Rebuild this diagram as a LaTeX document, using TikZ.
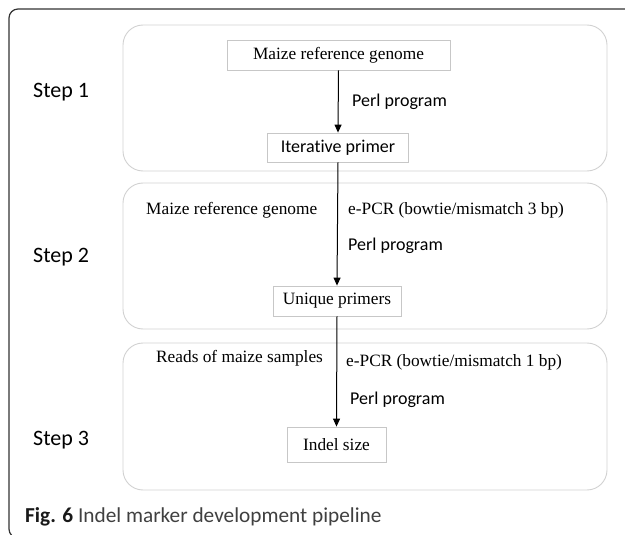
\documentclass[tikz,border=0pt]{standalone}
\usepackage{fontspec}
\setmainfont{Liberation Serif}
\newfontfamily\carl[Ligatures=NoCommon]{Carlito}
\usetikzlibrary{arrows.meta}
\begin{document}
\begin{tikzpicture}[x=1pt,y=-1pt,
  stepframe/.style={draw=black!18, line width=0.9pt, rounded corners=20pt, inner sep=0pt},
  entity/.style={draw=black!22, line width=0.8pt, inner sep=0pt},
  serif/.style={font=\fontsize{17.3}{19}\selectfont, inner sep=0pt},
  sans/.style={font=\carl\fontsize{18}{20}\selectfont, inner sep=0pt},
  steplbl/.style={font=\carl\fontsize{22}{24}\selectfont, inner sep=0pt, anchor=west},
  arr/.style={-{Triangle[length=8pt,width=7pt]}, line width=1pt}]
\useasboundingbox (0,0) rectangle (625,535);
% outer frame
\draw[line width=1.2pt, black!80, rounded corners=9pt] (640,9) -- (9,9) -- (9,538) -- (40,538);
% step frames
\node[stepframe, minimum width=484pt, minimum height=146pt] (s1) at (365,98) {};
\node[stepframe, minimum width=484pt, minimum height=146pt] (s2) at (365,256) {};
\node[stepframe, minimum width=484pt, minimum height=147pt] (s3) at (365,416.5) {};
% step labels
\node[steplbl] (l1) at (33,92) {Step 1};
\node[steplbl] (l2) at (33,257) {Step 2};
\node[steplbl] (l3) at (33,440) {Step 3};
% entities
\node[entity, serif, minimum width=223pt, minimum height=30pt] (mrg) at (338.5,55) {Maize reference genome};
\node[entity, sans, minimum width=141pt, minimum height=29pt] (iter) at (338,147.5) {Iterative primer};
\node[entity, serif, minimum width=128pt, minimum height=30pt] (uniq) at (337,301) {Unique primers};
\node[entity, serif, minimum width=99pt, minimum height=35pt] (indel) at (336.5,444.5) {Indel size};
% labels
\node[sans, anchor=west] (p1) at (352,102) {Perl program};
\node[serif, anchor=west] (m2) at (146,210) {Maize reference genome};
\node[serif, anchor=west] (e2) at (348,210) {e-PCR (bowtie/mismatch 3 bp)};
\node[sans, anchor=west] (p2) at (348,246) {Perl program};
\node[serif, anchor=west] (r3) at (156,358) {Reads of maize samples};
\node[serif, anchor=west] (e3) at (346,362) {e-PCR (bowtie/mismatch 1 bp)};
\node[sans, anchor=west] (p3) at (350,400) {Perl program};
% connectors
\draw[arr] (mrg.south) -- (iter.north);
\draw[arr] (iter.south) -- (uniq.north);
\draw[arr] (uniq.south) -- (indel.north);
% caption
\node[font=\carl\fontsize{21.3}{23}\selectfont, anchor=west, inner sep=0pt, text=black!75] (cap) at (25,517) {\textbf{\color{black!90}Fig. 6} Indel marker development pipeline};
\end{tikzpicture}
\end{document}
